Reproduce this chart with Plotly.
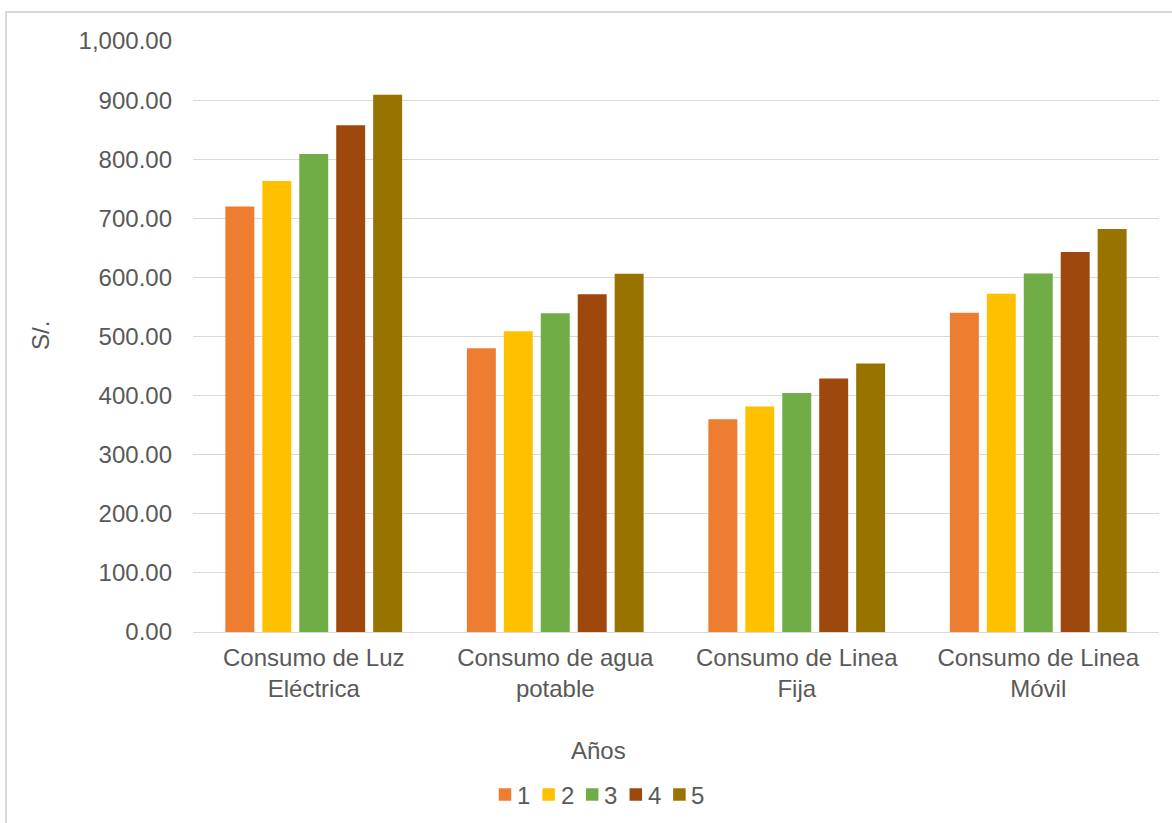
import plotly.graph_objects as go

# Monthly utility costs per service, one series per year
categories = [
    "Consumo de Luz<br>Eléctrica",
    "Consumo de agua<br>potable",
    "Consumo de Linea<br>Fija",
    "Consumo de Linea<br>Móvil",
]
years = ["1", "2", "3", "4", "5"]
year_1 = [720.00, 480.00, 360.00, 540.00]
year_2 = [763.20, 508.80, 381.60, 572.40]
year_3 = [809.00, 539.30, 404.50, 606.70]
year_4 = [857.50, 571.70, 428.80, 643.10]
year_5 = [909.00, 606.00, 454.50, 681.70]
series = [year_1, year_2, year_3, year_4, year_5]
colors = ["#ED7D31", "#FFC000", "#70AD47", "#9E480E", "#997300"]

y_ticks = list(range(0, 1001, 100))

W, H = 1172, 823
L, R, T, B = 193, 1159, 41, 632  # plot area in pixels
FONT = "Liberation Sans, Arial, sans-serif"
GREY_TEXT = "#595959"


def px_x(x):
    return (x - L) / (R - L)


def px_y(y):
    return (B - y) / (B - T)


fig = go.Figure()
for name, vals, col in zip(years, series, colors):
    fig.add_trace(go.Bar(
        x=categories, y=vals, name=name,
        marker=dict(color=col, line=dict(width=0)),
        showlegend=False,
    ))

shapes = [
    # outer chart frame
    dict(type="rect", xref="paper", yref="paper",
         x0=px_x(6), x1=px_x(1180), y0=px_y(830), y1=px_y(12),
         line=dict(color="#D9D9D9", width=2), fillcolor="rgba(0,0,0,0)",
         layer="below"),
]
annotations = [
    dict(text="S/.", xref="paper", yref="paper", x=px_x(40), y=px_y(336),
         xanchor="center", yanchor="middle",
         showarrow=False, textangle=-90,
         font=dict(family=FONT, size=24, color=GREY_TEXT)),
    dict(text="Años", xref="paper", yref="paper", x=px_x(598), y=px_y(750),
         xanchor="center", yanchor="middle",
         showarrow=False, font=dict(family=FONT, size=24, color=GREY_TEXT)),
]

# legend row
leg_x0, leg_step, leg_y, sq = 505, 43.6, 794.5, 12.5
for i, (name, col) in enumerate(zip(years, colors)):
    cx = leg_x0 + i * leg_step
    shapes.append(dict(type="rect", xref="paper", yref="paper",
                       x0=px_x(cx - sq / 2), x1=px_x(cx + sq / 2),
                       y0=px_y(leg_y + sq / 2), y1=px_y(leg_y - sq / 2),
                       line=dict(width=0), fillcolor=col))
    annotations.append(dict(text=name, xref="paper", yref="paper",
                            x=px_x(cx + 10), y=px_y(leg_y + 1),
                            xanchor="left", yanchor="middle",
                            showarrow=False,
                            font=dict(family=FONT, size=24, color=GREY_TEXT)))

fig.update_layout(
    width=W, height=H,
    margin=dict(l=L, r=W - R, t=T, b=H - B, pad=0),
    paper_bgcolor="white", plot_bgcolor="white",
    barmode="group", bargap=0.235, bargroupgap=0.216,
    font=dict(family=FONT, size=24, color=GREY_TEXT),
    shapes=shapes, annotations=annotations,
    xaxis=dict(showgrid=False, showline=True, linecolor="#D9D9D9", linewidth=1,
               ticks="", ticklabelstandoff=4,
               tickfont=dict(size=24, color=GREY_TEXT)),
    yaxis=dict(range=[0, 1000], tickvals=y_ticks, tickformat=",.2f",
               showgrid=True, gridcolor="#D9D9D9", gridwidth=1,
               zeroline=False, showline=False, ticks="",
               ticklabelstandoff=20,
               tickfont=dict(size=24, color=GREY_TEXT)),
)

fig.write_html("out.html")
